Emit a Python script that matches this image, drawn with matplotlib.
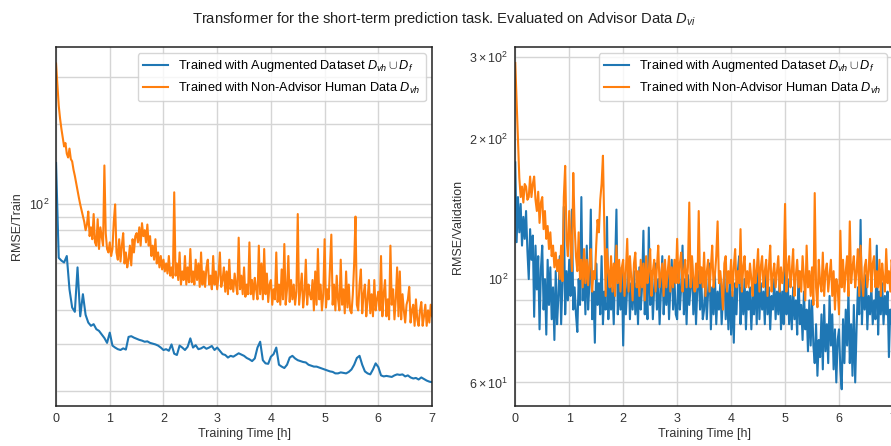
import numpy as np
import matplotlib
matplotlib.use("Agg")
import matplotlib.pyplot as plt

plt.rcParams['font.family'] = ['Liberation Sans', 'DejaVu Sans']
plt.rcParams['mathtext.fontset'] = 'custom'
plt.rcParams['mathtext.rm'] = 'Liberation Sans'
plt.rcParams['mathtext.it'] = 'Liberation Sans:italic'
plt.rcParams['mathtext.bf'] = 'Liberation Sans:bold'

# training time [h]: a reading every 0.05 h (smooth curve) or 0.025 h (noisy ones)
hours_coarse = np.linspace(0, 7, 141)
hours_fine = np.linspace(0, 7, 281)

# RMSE/Train, augmented dataset (every 0.05 h)
train_aug = [143, 63, 61.5, 60.5, 64, 48, 41, 39.5, 58, 38,
             46, 38.5, 36, 35, 35.5, 34, 33.5, 32.5, 31.5, 30.2,
             33, 29.5, 29, 28.6, 28.4, 28.8, 28.5, 31.8, 32, 31.6,
             31.3, 31, 30.8, 30.5, 30.6, 30.2, 30, 29.8, 29.5, 29,
             28.4, 28.6, 28.2, 29.8, 27.5, 27.2, 29.5, 29, 28.4, 29.2,
             31.4, 29, 29.6, 28.6, 28.8, 29.2, 28.7, 29, 29.4, 28.4,
             29, 28.2, 27.4, 27.2, 26.6, 27, 26.8, 27.2, 27.6, 27.3,
             27, 26.5, 26.2, 25.8, 26.4, 29, 30.5, 26, 25.3, 25.2,
             26.8, 27.4, 29, 25, 24.6, 24.3, 25, 26.6, 27, 26.4,
             26, 25.8, 25.6, 25.5, 25, 24.8, 24.6, 24.6, 24.4, 24.2,
             24, 23.8, 23.6, 23.5, 23.2, 23.2, 23.4, 23.3, 23.2, 23.5,
             24, 25, 26.5, 27, 25, 23.6, 23.2, 23, 24, 25.3,
             24.5, 22.8, 22.6, 22.7, 22.6, 22.5, 22.8, 23, 22.9, 23,
             22.6, 22.8, 22.4, 22.2, 22.3, 22, 22.4, 22.1, 21.8, 21.6,
             21.5]

# RMSE/Train, non-advisor human data (every 0.025 h)
train_human = [
    338, 280, 235, 210, 192, 178, 165, 170, 155, 150, 162, 148, 145, 135, 128, 120, 112, 106, 100, 95,
    90, 86, 80, 84, 94, 76, 82, 74, 92, 72, 70, 88, 68, 82, 76, 70, 140, 78, 68, 66,
    72, 64, 68, 86, 100, 66, 62, 74, 61, 70, 78, 60, 66, 58, 62, 70, 59, 74, 66, 76,
    78, 72, 82, 70, 85, 76, 80, 72, 84, 70, 76, 64, 70, 62, 74, 60, 66, 58, 64, 57,
    62, 56, 60, 55, 64, 54, 58, 53, 111, 54, 60, 52, 66, 50, 56, 52, 64, 50, 58, 51,
    68, 51, 56, 50, 62, 52, 60, 49, 66, 50, 56, 49, 58, 62, 50, 54, 48, 64, 50, 56,
    48, 54, 66, 49, 52, 58, 47, 56, 46, 62, 48, 52, 47, 55, 50, 46, 75, 48, 54, 46,
    58, 45, 50, 46, 72, 46, 52, 44, 53, 48, 44, 70, 46, 60, 44, 68, 46, 55, 43, 50,
    52, 42, 48, 44, 66, 43, 50, 42, 57, 44, 71, 42, 48, 64, 43, 52, 44, 50, 42, 47,
    92, 42, 48, 55, 41, 46, 62, 42, 50, 46, 44, 52, 40, 56, 42, 68, 44, 50, 40, 46,
    74, 41, 48, 44, 58, 77, 42, 50, 40, 54, 44, 40, 62, 42, 48, 39, 56, 41, 50, 40,
    39, 46, 60, 90, 42, 40, 50, 57, 39, 46, 50, 38, 44, 52, 39, 46, 38, 52, 40, 44,
    47, 40, 64, 38, 46, 52, 38, 44, 37, 70, 42, 48, 37, 44, 58, 38, 56, 37, 46, 40,
    36, 42, 44, 49, 36, 40, 42, 35, 44, 37, 35, 40, 43, 35, 38, 42, 35, 40, 36, 42,
    38]

# RMSE/Validation, augmented dataset (every 0.025 h)
val_aug = [
    178, 120, 150, 126, 145, 118, 136, 122, 140, 115, 100, 128, 110, 124, 83, 118, 95, 112, 78, 105,
    118, 86, 100, 76, 110, 88, 106, 82, 96, 74, 104, 80, 92, 112, 80, 98, 143, 84, 104, 90,
    110, 92, 141, 86, 96, 84, 77, 100, 88, 150, 90, 108, 84, 118, 86, 98, 141, 82, 94, 73,
    108, 88, 98, 84, 112, 80, 94, 86, 136, 82, 104, 86, 96, 80, 106, 141, 84, 98, 86, 106,
    72, 102, 84, 96, 110, 82, 98, 86, 104, 84, 98, 80, 106, 86, 96, 127, 84, 100, 82, 129,
    88, 104, 82, 96, 108, 86, 100, 80, 94, 112, 84, 98, 88, 104, 82, 96, 110, 86, 100, 84,
    82, 106, 86, 96, 118, 84, 100, 80, 102, 88, 96, 110, 84, 100, 80, 96, 104, 86, 98, 82,
    86, 100, 82, 94, 108, 78, 96, 84, 102, 80, 94, 86, 98, 80, 92, 104, 82, 96, 78, 100,
    76, 94, 73, 98, 84, 104, 112, 80, 96, 84, 100, 78, 94, 86, 96, 78, 92, 84, 102, 80,
    110, 82, 98, 86, 94, 80, 104, 84, 96, 78, 92, 86, 100, 82, 94, 84, 102, 78, 94, 80,
    122, 84, 100, 80, 92, 78, 96, 82, 90, 76, 104, 80, 88, 74, 94, 78, 86, 70, 90, 72,
    90, 72, 66, 80, 62, 74, 68, 84, 64, 88, 70, 80, 66, 92, 72, 84, 64, 78, 60, 74,
    78, 64, 58, 82, 66, 86, 72, 94, 66, 80, 62, 88, 60, 78, 96, 84, 134, 80, 98, 86,
    102, 78, 92, 84, 96, 80, 90, 82, 118, 76, 94, 84, 98, 80, 92, 84, 94, 68, 86, 80,
    90]

# RMSE/Validation, non-advisor human data (every 0.025 h)
val_human = [
    291, 240, 196, 165, 150, 158, 146, 160, 158, 148, 150, 166, 150, 160, 166, 148, 140, 154, 132, 146,
    150, 128, 140, 122, 130, 116, 126, 112, 118, 106, 114, 104, 110, 100, 118, 99, 150, 175, 122, 112,
    140, 120, 104, 169, 130, 112, 104, 126, 100, 110, 96, 116, 98, 110, 97, 108, 116, 94, 104, 100,
    118, 134, 126, 148, 160, 184, 130, 92, 116, 104, 96, 112, 94, 108, 92, 118, 98, 110, 94, 106,
    110, 92, 104, 122, 94, 112, 100, 90, 108, 114, 96, 104, 92, 110, 96, 108, 90, 112, 98, 104,
    116, 92, 104, 110, 94, 106, 118, 96, 102, 108, 92, 110, 96, 104, 112, 94, 106, 96, 110, 98,
    122, 98, 108, 114, 94, 104, 110, 96, 106, 146, 96, 112, 100, 94, 108, 96, 140, 98, 106, 96,
    114, 92, 104, 110, 94, 106, 118, 96, 102, 112, 133, 98, 104, 96, 86, 108, 112, 94, 104, 98,
    110, 92, 106, 116, 96, 104, 98, 128, 94, 106, 112, 96, 104, 96, 108, 100, 92, 110, 98, 104,
    116, 94, 106, 112, 96, 104, 110, 92, 106, 118, 94, 102, 108, 96, 104, 112, 94, 106, 98, 104,
    145, 94, 106, 112, 96, 104, 116, 92, 102, 110, 96, 104, 94, 112, 100, 90, 118, 96, 104, 92,
    106, 88, 153, 96, 87, 110, 98, 94, 114, 92, 104, 108, 94, 102, 110, 92, 104, 86, 100, 96,
    84, 127, 96, 110, 94, 104, 112, 92, 133, 98, 106, 112, 96, 104, 116, 92, 118, 100, 92, 106,
    110, 96, 104, 122, 94, 108, 112, 96, 104, 96, 110, 92, 108, 100, 94, 116, 98, 104, 94, 110,
    104]

label_aug = r'Trained with Augmented Dataset $D_{vh} \cup D_f$'
label_human = r'Trained with Non-Advisor Human Data $D_{vh}$'

fig = plt.figure(figsize=(8.91, 4.46), dpi=100)
ax1 = fig.add_axes([0.0629, 0.0897, 0.422, 0.805])
ax2 = fig.add_axes([0.5783, 0.0897, 0.4239, 0.805])

panels = [(ax1, hours_coarse, train_aug, hours_fine, train_human, 'RMSE/Train', (17.5, 390)),
          (ax2, hours_fine, val_aug, hours_fine, val_human, 'RMSE/Validation', (53.4, 315))]

for ax, t_aug, aug, t_human, human, ylab, ylim in panels:
    ax.plot(t_aug, aug, color='#1f77b4', lw=1.5, label=label_aug)
    ax.plot(t_human, human, color='#ff7f0e', lw=1.5, label=label_human)
    ax.set_yscale('log')
    ax.set_xlim(0, 7)
    ax.set_ylim(*ylim)
    ax.grid(True, which='both', color='#d5d5d5', lw=1)
    ax.set_axisbelow(True)
    ax.set_xlabel('Training Time [h]', fontsize=9, color='#333333', labelpad=2)
    ax.set_ylabel(ylab, fontsize=9, color='#333333')
    ax.tick_params(which='both', length=0, labelsize=9, labelcolor='#333333', pad=5)
    for s in ax.spines.values():
        s.set_color('#222222')
        s.set_linewidth(1.1)
    leg = ax.legend(loc='upper right', fontsize=9.2, frameon=True, fancybox=True)
    leg.get_frame().set_edgecolor('#cccccc')

fig.text(0.498, 0.958, r'Transformer for the short-term prediction task. Evaluated on Advisor Data $D_{vi}$',
         ha='center', va='center', fontsize=10.6, color='#222222')

fig.savefig('out.png', dpi=100)
